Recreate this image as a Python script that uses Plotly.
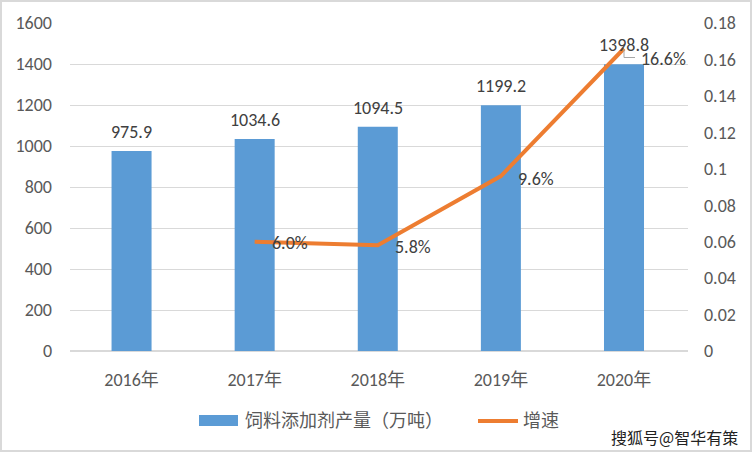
import plotly.graph_objects as go

years = ["2016年", "2017年", "2018年", "2019年", "2020年"]
output = [975.9, 1034.6, 1094.5, 1199.2, 1398.8]
growth = [None, 0.060, 0.058, 0.096, 0.166]
growth_labels = ["", "6.0%", "5.8%", "9.6%", "16.6%"]
label_yshift = [0, -1, -2, -3, -10]
left_ticks = [0, 200, 400, 600, 800, 1000, 1200, 1400, 1600]
right_ticks = [0, 0.02, 0.04, 0.06, 0.08, 0.1, 0.12, 0.14, 0.16, 0.18]
right_tick_text = ["0", "0.02", "0.04", "0.06", "0.08", "0.1", "0.12", "0.14", "0.16", "0.18"]
bar_name = "饲料添加剂产量（万吨）"
line_name = "增速"

FONT = "Carlito, Calibri, 'Noto Sans CJK SC', sans-serif"
TXT = "#595959"
W, H = 752, 452
ML, MR, MT, MB = 70, 64, 23, 101
pw = W - ML - MR
ph = H - MT - MB


def px(x):
    return (x - ML) / pw


def py(y):
    return (MT + ph - y) / ph


fig = go.Figure()
fig.add_trace(go.Bar(
    x=years, y=output, name=bar_name,
    marker=dict(color="#5B9BD5", line=dict(width=0)),
))
fig.add_trace(go.Scatter(
    x=years, y=growth, name=line_name, yaxis="y2", mode="lines",
    line=dict(color="#ED7D31", width=4),
    cliponaxis=False,
))

for yr, v in zip(years, output):
    fig.add_annotation(x=yr, y=v, text=f"{v:.1f}", showarrow=False,
                       xanchor="center", yanchor="middle", yshift=19,
                       font=dict(size=18, color="#404040", family=FONT))

for i, (yr, g, lab, ys) in enumerate(zip(years, growth, growth_labels, label_yshift)):
    if g is None:
        continue
    fig.add_annotation(x=yr, y=g, yref="y2", text=lab, showarrow=False,
                       xanchor="left", yanchor="middle", xshift=15, yshift=ys,
                       font=dict(size=18, color="#404040", family=FONT))

# leader line for the last growth label
fig.add_shape(type="path", xref="x", yref="y2",
              xsizemode="pixel", ysizemode="pixel",
              xanchor=len(years) - 1, yanchor=growth[-1],
              path="M0,-1 L0,-9 L11,-9",
              line=dict(color="#A6A6A6", width=1))

# chart border
fig.add_shape(type="rect", xref="paper", yref="paper",
              x0=px(1), x1=px(W - 1), y0=py(H - 1), y1=py(1),
              line=dict(color="#D9D9D9", width=2), layer="below")

# custom legend
fig.add_shape(type="rect", xref="paper", yref="paper",
              x0=px(199), x1=px(238), y0=py(426), y1=py(415),
              fillcolor="#5B9BD5", line=dict(width=0))
fig.add_annotation(text=bar_name, xref="paper", yref="paper", x=px(243), y=py(421),
                   xanchor="left", yanchor="middle", showarrow=False,
                   font=dict(size=18, color=TXT, family=FONT))
fig.add_shape(type="line", xref="paper", yref="paper",
              x0=px(478), x1=px(518), y0=py(421), y1=py(421),
              line=dict(color="#ED7D31", width=4))
fig.add_annotation(text=line_name, xref="paper", yref="paper", x=px(521), y=py(421),
                   xanchor="left", yanchor="middle", showarrow=False,
                   font=dict(size=18, color=TXT, family=FONT))

fig.add_annotation(text="搜狐号@智华有策", xref="paper", yref="paper",
                   x=px(740), y=py(437),
                   xanchor="right", yanchor="middle", showarrow=False,
                   font=dict(size=16, color="#222222", family="'Noto Sans CJK SC', sans-serif"))

fig.update_layout(
    width=W, height=H,
    margin=dict(l=ML, r=MR, t=MT, b=MB),
    paper_bgcolor="white", plot_bgcolor="white",
    font=dict(family=FONT, color=TXT, size=18),
    bargap=0.675,
    showlegend=False,
    xaxis=dict(showgrid=False, showline=False, ticks="", ticklabelstandoff=16,
               tickfont=dict(size=18, color=TXT)),
    yaxis=dict(range=[0, 1600], tickvals=left_ticks, showgrid=True, gridcolor="#D9D9D9",
               gridwidth=1, zeroline=True, zerolinecolor="#D9D9D9", showline=False,
               ticks="", ticklabelstandoff=17, tickfont=dict(size=18, color=TXT)),
    yaxis2=dict(range=[0, 0.18], tickvals=right_ticks, ticktext=right_tick_text,
                overlaying="y", side="right", showgrid=False, zeroline=False,
                showline=False, ticks="", ticklabelstandoff=15,
                tickfont=dict(size=18, color=TXT)),
)

fig.write_html("out.html")
